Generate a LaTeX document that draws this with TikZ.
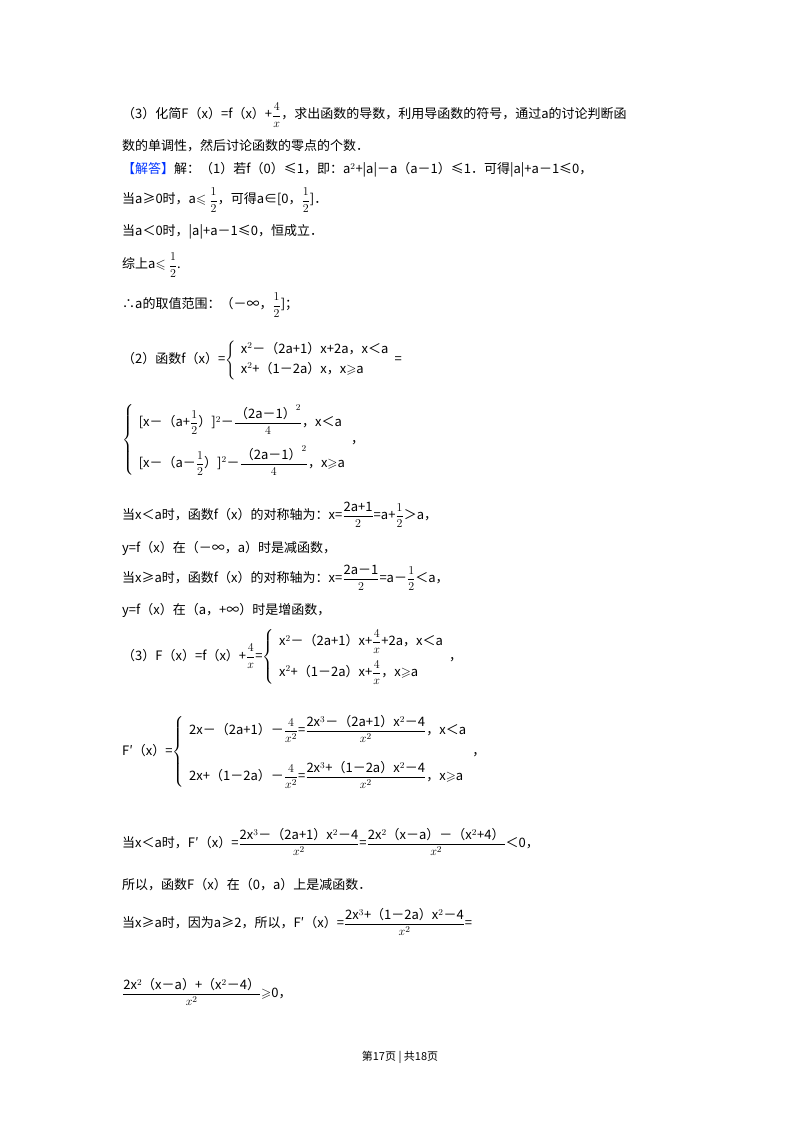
\documentclass[tikz,border=0pt]{standalone}
\usepackage{amsmath,amssymb}
\usepackage{fontspec}
\setmainfont{Noto Sans CJK SC}
\begin{document}
\begin{tikzpicture}[x=1pt,y=1pt,
  txt/.style={anchor=west,inner sep=0pt,font=\fontsize{13}{16}\selectfont},
  foot/.style={anchor=center,inner sep=0pt,font=\fontsize{11}{13}\selectfont}]
\useasboundingbox[fill=white] (0,0) rectangle (800,-1132);
\node[txt] (l1) at (122,-115) {（3）化简F（x）=f（x）+$\dfrac{4}{x}$，求出函数的导数，利用导函数的符号，通过a的讨论判断函};
\node[txt] (l2) at (122,-146) {数的单调性，然后讨论函数的零点的个数．};
\node[txt] (l3) at (122,-170) {\textcolor{blue!80!cyan}{【解答】}解：（1）若f（0）≤1，即：a$^2$+|a|－a（a－1）≤1．可得|a|+a－1≤0，};
\node[txt] (l4) at (122,-200) {当a≥0时，a$\leqslant\dfrac{1}{2}$，可得a∈[0，$\dfrac{1}{2}$]．};
\node[txt] (l5) at (122,-232) {当a＜0时，|a|+a－1≤0，恒成立．};
\node[txt] (l6) at (122,-265) {综上a$\leqslant\dfrac{1}{2}$.};
\node[txt] (l7) at (122,-305) {∴a的取值范围：（－∞，$\dfrac{1}{2}$]；};
\node[txt] (l8) at (122,-360) {（2）函数f（x）=$\left\{\begin{array}{l}\text{x$^2$－（2a+1）x+2a，x＜a}\\[4pt]\text{x$^2$+（1－2a）x，x$\geqslant$a}\end{array}\right.$=};
\node[txt] (l9) at (122,-440) {$\left\{\begin{array}{l}\text{[x－（a+$\dfrac{1}{2}$）]$^2$－$\dfrac{\text{（2a－1）}^2}{4}$，x＜a}\\[14pt]\text{[x－（a－$\dfrac{1}{2}$）]$^2$－$\dfrac{\text{（2a－1）}^2}{4}$，x$\geqslant$a}\end{array}\right.$，};
\node[txt] (l10) at (122,-515) {当x＜a时，函数f（x）的对称轴为：x=$\dfrac{\text{2a+1}}{2}$=a+$\dfrac{1}{2}$＞a，};
\node[txt] (l11) at (122,-548) {y=f（x）在（－∞，a）时是减函数，};
\node[txt] (l12) at (122,-578) {当x≥a时，函数f（x）的对称轴为：x=$\dfrac{\text{2a－1}}{2}$=a－$\dfrac{1}{2}$＜a，};
\node[txt] (l13) at (122,-610) {y=f（x）在（a，+∞）时是增函数，};
\node[txt] (l14) at (122,-657) {（3）F（x）=f（x）+$\dfrac{4}{x}$=$\left\{\begin{array}{l}\text{x$^2$－（2a+1）x+$\dfrac{4}{x}$+2a，x＜a}\\[10pt]\text{x$^2$+（1－2a）x+$\dfrac{4}{x}$，x$\geqslant$a}\end{array}\right.$，};
\node[txt] (l15) at (122,-752) {F′（x）=$\left\{\begin{array}{l}\text{2x－（2a+1）－$\dfrac{4}{x^2}$=$\dfrac{\text{2x$^3$－（2a+1）x$^2$－4}}{x^2}$，x＜a}\\[22pt]\text{2x+（1－2a）－$\dfrac{4}{x^2}$=$\dfrac{\text{2x$^3$+（1－2a）x$^2$－4}}{x^2}$，x$\geqslant$a}\end{array}\right.$，};
\node[txt] (l16) at (122,-842) {当x＜a时，F′（x）=$\dfrac{\text{2x$^3$－（2a+1）x$^2$－4}}{x^2}$=$\dfrac{\text{2x$^2$（x－a）－（x$^2$+4）}}{x^2}$＜0，};
\node[txt] (l17) at (122,-885) {所以，函数F（x）在（0，a）上是减函数．};
\node[txt] (l18) at (122,-922) {当x≥a时，因为a≥2，所以，F′（x）=$\dfrac{\text{2x$^3$+（1－2a）x$^2$－4}}{x^2}$=};
\node[txt] (l19) at (122,-992) {$\dfrac{\text{2x$^2$（x－a）+（x$^2$－4）}}{x^2}$$\geqslant$0，};
\node[foot] (ft) at (400,-1057) {第17页 | 共18页};
\end{tikzpicture}
\end{document}
